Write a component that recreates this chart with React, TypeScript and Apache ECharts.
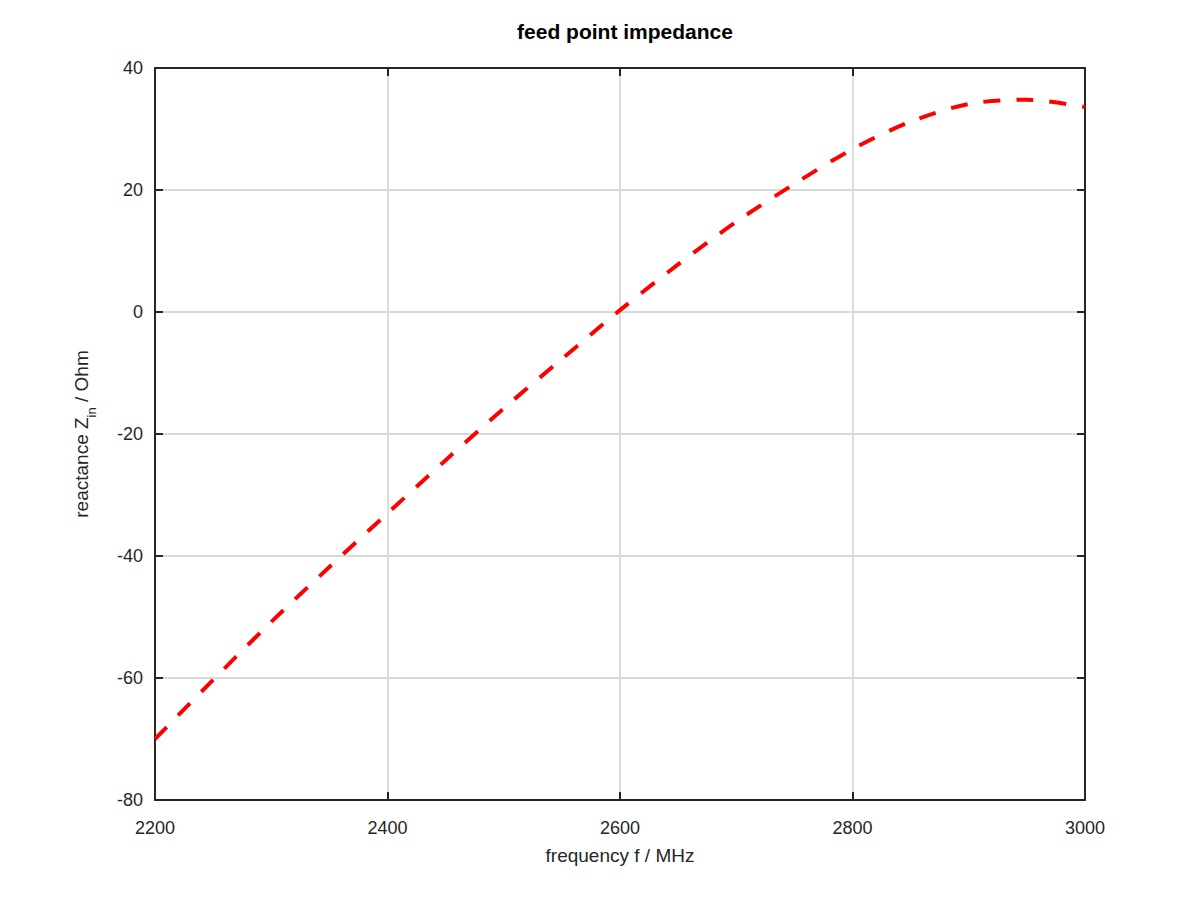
import { useRef, useEffect } from "react";
import * as echarts from "echarts";
import type { EChartsOption } from "echarts";

// frequency in MHz, reactance in Ohm
const frequencies = [
  2200, 2250, 2300, 2350, 2400, 2450, 2500, 2550, 2600, 2650, 2700, 2750,
  2800, 2850, 2900, 2950, 3000,
];
const reactance = [
  -70.0, -60.3, -50.8, -41.8, -33.0, -24.3, -15.8, -7.7, 0.3, 7.8, 14.8, 21.0,
  26.7, 31.2, 34.1, 34.8, 33.6,
];
const xTicks = { min: 2200, max: 3000, interval: 200 };
const yTicks = { min: -80, max: 40, interval: 20 };

const FONT = "'Liberation Sans', Arial, Helvetica, sans-serif";
const INK = "#262626";
const GRIDLINE = "#d9d9d9";

export default function App() {
  const chartRef = useRef<HTMLDivElement>(null);

  useEffect(() => {
    if (!chartRef.current) return;
    const chart = echarts.init(chartRef.current, undefined, { renderer: "svg" });

    const boxAxisLine = {
      show: true,
      onZero: false,
      lineStyle: { color: INK, width: 2 },
    };
    const innerTicks = {
      show: true,
      inside: true,
      length: 8,
      lineStyle: { color: INK, width: 2 },
    };
    const plain = (v: number) => String(v);

    const option: EChartsOption = {
      animation: false,
      backgroundColor: "#ffffff",
      title: {
        text: "feed point impedance",
        left: 620,
        top: 16,
        textAlign: "center",
        textStyle: {
          fontFamily: FONT,
          fontSize: 21,
          fontWeight: "bold",
          color: "#000000",
        },
      },
      grid: { left: 155, right: 115, top: 68, bottom: 100 },
      xAxis: [
        {
          type: "value",
          position: "bottom",
          ...xTicks,
          name: "frequency f / MHz",
          nameLocation: "middle",
          nameGap: 46,
          nameTextStyle: { fontFamily: FONT, fontSize: 19, color: INK },
          axisLine: boxAxisLine,
          axisTick: innerTicks,
          axisLabel: {
            margin: 19,
            fontFamily: FONT,
            fontSize: 18,
            color: INK,
            formatter: plain,
          },
          splitLine: { show: true, lineStyle: { color: GRIDLINE, width: 1.8 } },
        },
        {
          type: "value",
          position: "top",
          ...xTicks,
          axisLine: boxAxisLine,
          axisTick: innerTicks,
          axisLabel: { show: false },
          splitLine: { show: false },
        },
      ],
      yAxis: [
        {
          type: "value",
          position: "left",
          ...yTicks,
          name: "{a|reactance Z}{b|in}{a| / Ohm}",
          nameLocation: "middle",
          nameGap: 57,
          nameTextStyle: {
            rich: {
              a: {
                fontFamily: FONT,
                fontSize: 19,
                color: INK,
                lineHeight: 22,
                verticalAlign: "top",
              },
              b: {
                fontFamily: FONT,
                fontSize: 13,
                color: INK,
                lineHeight: 26,
                verticalAlign: "bottom",
              },
            },
          },
          axisLine: boxAxisLine,
          axisTick: innerTicks,
          axisLabel: {
            margin: 12,
            fontFamily: FONT,
            fontSize: 18,
            color: INK,
            formatter: plain,
          },
          splitLine: { show: true, lineStyle: { color: GRIDLINE, width: 1.8 } },
        },
        {
          type: "value",
          position: "right",
          ...yTicks,
          axisLine: boxAxisLine,
          axisTick: innerTicks,
          axisLabel: { show: false },
          splitLine: { show: false },
        },
      ],
      series: [
        {
          type: "line",
          xAxisIndex: 0,
          yAxisIndex: 0,
          data: frequencies.map((f, i) => [f, reactance[i]]),
          smooth: 0.3,
          showSymbol: false,
          lineStyle: { color: "#ff0000", width: 4, type: [17, 16] },
        },
      ],
    };

    chart.setOption(option);

    return () => {
      chart.dispose();
    };
  }, []);

  return (
    <div
      ref={chartRef}
      style={{ position: "fixed", left: 0, top: 0, width: "1200px", height: "900px" }}
    />
  );
}
